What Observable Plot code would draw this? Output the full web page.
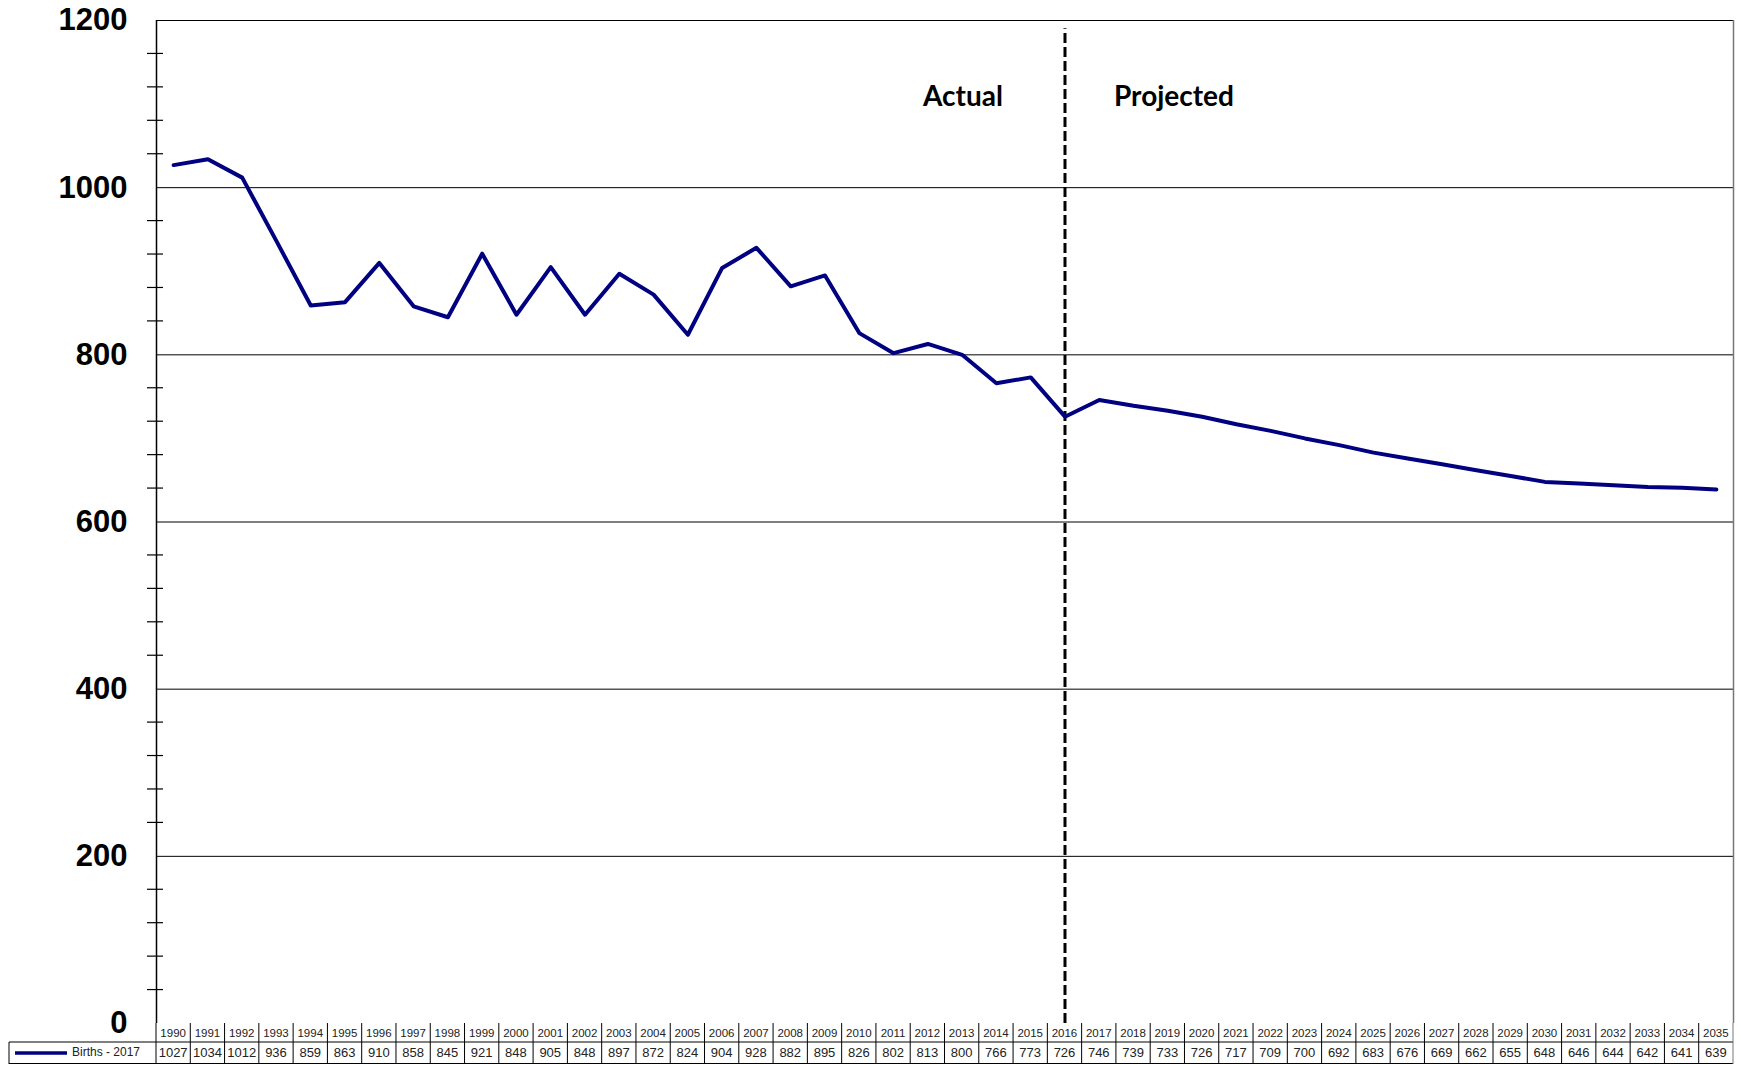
<!DOCTYPE html>
<html><head><meta charset="utf-8">
<script src="https://cdn.jsdelivr.net/npm/d3@7"></script>
<script src="https://cdn.jsdelivr.net/npm/@observablehq/plot@0.6"></script>
<style>html,body{margin:0;padding:0;background:#fff}#chart svg{display:block}</style>
</head><body><div id="chart"></div>
<script>
const years = [1990,1991,1992,1993,1994,1995,1996,1997,1998,1999,2000,2001,2002,2003,2004,2005,2006,2007,2008,2009,2010,2011,2012,2013,2014,2015,2016,2017,2018,2019,2020,2021,2022,2023,2024,2025,2026,2027,2028,2029,2030,2031,2032,2033,2034,2035];
const births = [1027,1034,1012,936,859,863,910,858,845,921,848,905,848,897,872,824,904,928,882,895,826,802,813,800,766,773,726,746,739,733,726,717,709,700,692,683,676,669,662,655,648,646,644,642,641,639];
const seriesName = "Births - 2017";
const yMajorTicks = [0,200,400,600,800,1000,1200];
const yMinorTicks = [40,80,120,160,240,280,320,360,440,480,520,560,640,680,720,760,840,880,920,960,1040,1080,1120,1160];
const splitYear = 2016;
const labels = ["Actual","Projected"];

const data = years.map((y,i)=>({year:y, value:births[i]}));
const navy = "#000080";

function tableMark(index, scales, values, dims) {
  const {x, y} = scales;
  const g = d3.create("svg:g").attr("text-anchor","start");
  const y0 = y(0);
  const rowH1 = 19, rowH2 = 22;
  const yA = y0 + rowH1, yB = yA + rowH2;
  const xL = x(years[0]-0.5), xR = x(years[years.length-1]+0.5);
  const legendX = 9;
  // minor ticks crossing the axis
  for (const t of yMinorTicks) {
    g.append("line").attr("x1", xL-9).attr("x2", xL+7).attr("y1", y(t)).attr("y2", y(t)).attr("stroke","#000").attr("stroke-width",1.2);
  }
  // horizontal table lines
  g.append("line").attr("x1", legendX).attr("x2", xR).attr("y1", yA).attr("y2", yA).attr("stroke","#000");
  g.append("line").attr("x1", legendX).attr("x2", xR).attr("y1", yB-0.5).attr("y2", yB-0.5).attr("stroke","#000");
  g.append("line").attr("x1", legendX).attr("x2", legendX).attr("y1", yA).attr("y2", yB).attr("stroke","#000");
  // vertical cell boundaries
  for (let i=0;i<=years.length;i++){
    const xx = x(years[0]-0.5+i);
    g.append("line").attr("x1", xx).attr("x2", xx).attr("y1", y0).attr("y2", yB).attr("stroke", i===years.length ? "#777" : "#000");
  }
  // text
  years.forEach((yr,i)=>{
    g.append("text").attr("x", x(yr)).attr("y", y0+rowH1/2+1).attr("text-anchor","middle").attr("dominant-baseline","middle")
      .attr("font-family","Liberation Sans, Arial, sans-serif").attr("font-size",11.5).attr("fill","#222").text(yr);
    g.append("text").attr("x", x(yr)).attr("y", yA+rowH2/2+1).attr("text-anchor","middle").attr("dominant-baseline","middle")
      .attr("font-family","Liberation Sans, Arial, sans-serif").attr("font-size",13).attr("fill","#222").text(births[i]);
  });
  // legend
  g.append("line").attr("x1", 15).attr("x2", 67).attr("y1", yA+rowH2/2).attr("y2", yA+rowH2/2).attr("stroke", navy).attr("stroke-width",3.5);
  g.append("text").attr("x", 72).attr("y", yA+rowH2/2).attr("text-anchor","start").attr("dominant-baseline","middle")
    .attr("font-family","Liberation Sans, Arial, sans-serif").attr("font-size",12).attr("fill","#222").text(seriesName);
  return g.node();
}

const chart = Plot.plot({
  width: 1741, height: 1065,
  marginLeft: 156, marginRight: 8, marginTop: 20, marginBottom: 42,
  style: {background:"#fff", overflow:"visible"},
  x: {domain:[years[0]-0.5, years[years.length-1]+0.5], axis:null},
  y: {domain:[0,1200], axis:null},
  marks: [
    Plot.ruleY(yMajorTicks.filter(d=>d>0), {stroke:"#000", strokeWidth:1}),
    Plot.ruleX([years[years.length-1]+0.5], {stroke:"#777", strokeWidth:1.5}),
    Plot.ruleX([years[0]-0.5], {stroke:"#000", strokeWidth:1.5}),
    Plot.axisY({ticks: yMajorTicks, tickSize: 9, tickPadding: 20, tickFormat: d=>String(d),
      fontSize: 31, fontWeight: "bold", fontFamily: "Liberation Sans, Arial, sans-serif", stroke:null, fill:"#000", label:null}),
    Plot.ruleX([splitYear], {y1: 0, y2: 1190, stroke:"#000", strokeWidth:3, strokeDasharray:"10,4"}),
    Plot.line(data, {x:"year", y:"value", stroke:navy, strokeWidth:4, strokeLinejoin:"round"}),
    Plot.text([labels[0]], {x: splitYear, y: 1108, text: d=>d, textAnchor:"end", dx:-62, fontSize:28, fontWeight:"bold", fontFamily:"Lato, sans-serif", fill:"#000"}),
    Plot.text([labels[1]], {x: splitYear, y: 1108, text: d=>d, textAnchor:"start", dx:49, fontSize:28, fontWeight:"bold", fontFamily:"Lato, sans-serif", fill:"#000"}),
    tableMark
  ]
});
document.getElementById("chart").appendChild(chart);
</script></body></html>
